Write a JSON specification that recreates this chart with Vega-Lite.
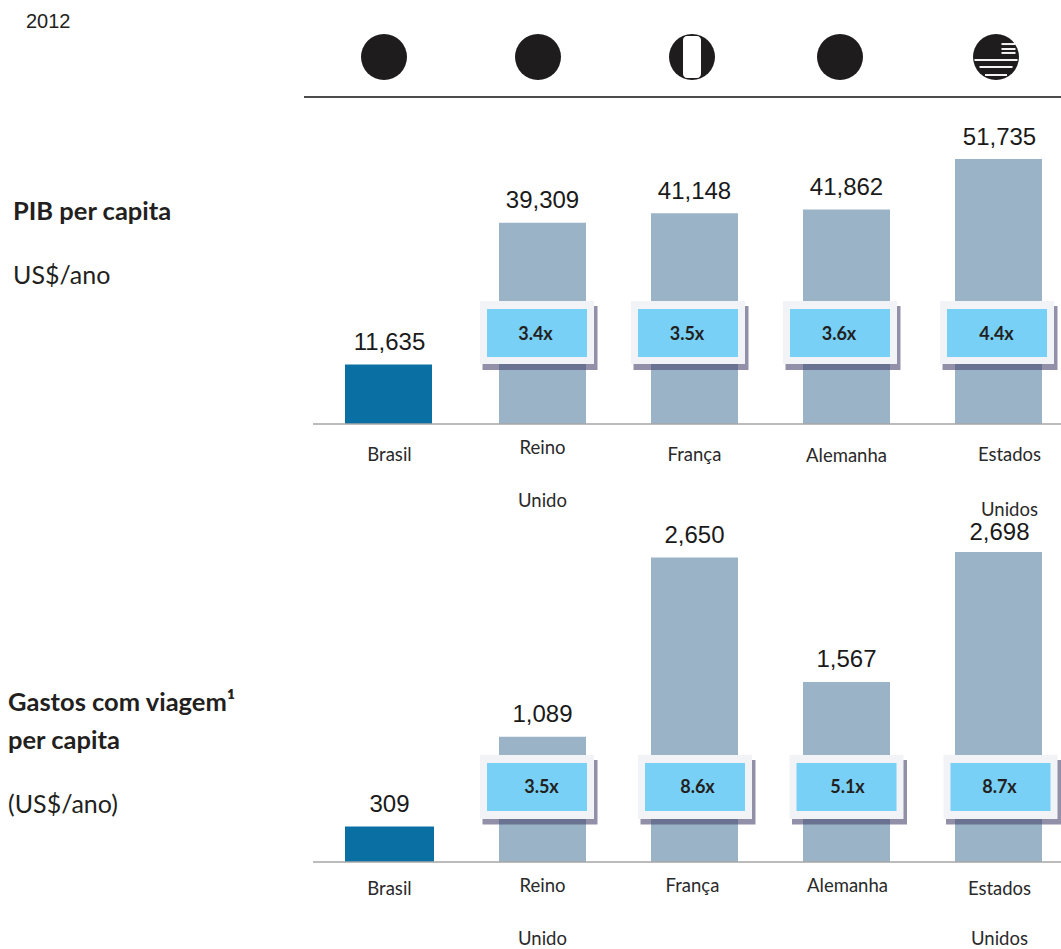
{
"$schema":"https://vega.github.io/schema/vega-lite/v6.json",
"width":1061,"height":949,"padding":0,"autosize":{"type":"fit","contains":"padding"},
"background":"white","view":{"stroke":null},
"config":{"text":{"font":"Liberation Sans","color":"#1a1a1a"}},
"datasets":{
"pib":[{"pais":"Brasil","valor":11635},{"pais":"Reino Unido","valor":39309,"multiplo":"3.4x"},{"pais":"França","valor":41148,"multiplo":"3.5x"},{"pais":"Alemanha","valor":41862,"multiplo":"3.6x"},{"pais":"Estados Unidos","valor":51735,"multiplo":"4.4x"}],
"viagem":[{"pais":"Brasil","valor":309},{"pais":"Reino Unido","valor":1089,"multiplo":"3.5x"},{"pais":"França","valor":2650,"multiplo":"8.6x"},{"pais":"Alemanha","valor":1567,"multiplo":"5.1x"},{"pais":"Estados Unidos","valor":2698,"multiplo":"8.7x"}],
"nomes":[{"pais":"Brasil","linha":"Brasil"},{"pais":"Reino Unido","linha":"Reino"},{"pais":"Reino Unido","linha":"Unido"},{"pais":"França","linha":"França"},{"pais":"Alemanha","linha":"Alemanha"},{"pais":"Estados Unidos","linha":"Estados"},{"pais":"Estados Unidos","linha":"Unidos"}],
"paises":[{"pais":"Brasil"},{"pais":"Reino Unido"},{"pais":"França"},{"pais":"Alemanha"},{"pais":"Estados Unidos"}]
},
"encoding":{"x":{"field":"pais","type":"nominal","sort":null,"axis":null,"scale":{"type":"point","padding":0,"domain":["Brasil","Reino Unido","França","Alemanha","Estados Unidos"],"range":[390.5,998.5]}}},
"resolve":{"scale":{"y":"independent"}},
"layer":[
{"data":{"name":"paises"},"layer":[
 {"mark":{"type":"point","shape":"circle","filled":true,"color":"#1f1c1d","opacity":1,"size":2116,"xOffset":{"expr":"datum.pais=='Brasil'?-6.5:datum.pais=='Reino Unido'?-4.5:datum.pais=='França'?-2.5:datum.pais=='Alemanha'?-6.5:-2.5"}},
  "encoding":{"y":{"datum":0.412,"axis":null,"scale":{"domain":[0,1],"range":[97,0],"nice":false}}}},
 {"data":{"values":[{"pais":"França"}]},"mark":{"type":"bar","size":18,"color":"white","xOffset":-2.5,"cornerRadius":4},"encoding":{"y":{"datum":0.629},"y2":{"datum":0.196}}},
 {"data":{"values":[{"pais":"Estados Unidos","faixa":0.381,"tam":43},{"pais":"Estados Unidos","faixa":0.309,"tam":33},{"pais":"Estados Unidos","faixa":0.227,"tam":22},{"pais":"Estados Unidos","faixa":0.546,"tam":14},{"pais":"Estados Unidos","faixa":0.495,"tam":14},{"pais":"Estados Unidos","faixa":0.454,"tam":14}]},
  "mark":{"type":"tick","orient":"horizontal","color":"white","thickness":2,"opacity":0.95,"xOffset":{"expr":"datum.tam==14?10:-2.5"},"size":{"expr":"datum.tam"}},
  "encoding":{"y":{"field":"faixa","type":"quantitative"}}},
 {"data":{"values":[{"pais":"Brasil"}]},"mark":{"type":"rule","color":"#111","strokeWidth":1.5},"encoding":{"x":{"value":304},"x2":{"value":1061},"y":{"datum":0}}}
]},
{"data":{"name":"pib"},"layer":[
 {"mark":{"type":"bar","size":87,"xOffset":{"expr":"datum.pais=='Brasil'?-2:0"}},"encoding":{"y":{"field":"valor","type":"quantitative","axis":null,"scale":{"domain":[0,51735],"range":[424,159],"nice":false}},"color":{"condition":{"test":"datum.pais=='Brasil'","value":"#0a70a4"},"value":"#9ab3c6"}}},
 {"data":{"values":[{"pais":"Brasil"}]},"mark":{"type":"rule","color":"#a6a6a6","strokeWidth":1.5},"encoding":{"x":{"value":313},"x2":{"value":1061},"y":{"datum":0}}},
 {"mark":{"type":"text","fontSize":24,"baseline":"middle","dy":-21.5,"dx":{"expr":"datum.pais=='Estados Unidos'?1:datum.pais=='Brasil'?-1:0"}},"encoding":{"y":{"field":"valor","type":"quantitative"},"text":{"field":"valor","type":"quantitative","format":","}}},
 {"transform":[{"filter":"datum.multiplo"}],"mark":{"type":"bar","size":115,"color":"#49466e","opacity":0.6,"xOffset":{"expr":"(datum.pais=='Reino Unido'?-5.5:datum.pais=='Estados Unidos'?-1.5:-6.5)+3"}},"encoding":{"y":{"datum":23037},"y2":{"datum":10542}}},
 {"transform":[{"filter":"datum.multiplo"}],"mark":{"type":"bar","size":114,"color":"#f1f3f6","xOffset":{"expr":"datum.pais=='Reino Unido'?-5.5:datum.pais=='Estados Unidos'?-1.5:-6.5"}},"encoding":{"y":{"datum":24012},"y2":{"datum":11714}}},
 {"transform":[{"filter":"datum.multiplo"}],"mark":{"type":"bar","size":100,"color":"#78d0f6","xOffset":{"expr":"datum.pais=='Reino Unido'?-5.5:datum.pais=='Estados Unidos'?-1.5:-6.5"}},"encoding":{"y":{"datum":22451},"y2":{"datum":13080}}},
 {"transform":[{"filter":"datum.multiplo"}],"mark":{"type":"text","font":"Lato","fontWeight":"bold","fontSize":18,"baseline":"middle","color":"#231f20","xOffset":{"expr":"datum.pais=='Reino Unido'?-7:datum.pais=='Estados Unidos'?-2:-7.5"}},"encoding":{"y":{"datum":17375},"text":{"field":"multiplo"}}},
 {"data":{"name":"nomes"},"mark":{"type":"text","font":"Lato","fontSize":18.5,"baseline":"middle","color":"#2a2a2a","dy":{"expr":"datum.linha=='Unido'?77:datum.linha=='Unidos'?86:datum.linha=='Reino'?24:datum.linha=='Alemanha'?32:31"},"dx":{"expr":"datum.pais=='Estados Unidos'?11:datum.pais=='Brasil'?-1:0"}},"encoding":{"y":{"datum":0},"text":{"field":"linha"}}},
 {"data":{"values":[{"t":"PIB per capita"}]},"mark":{"type":"text","font":"Lato","fontWeight":"bold","fontSize":25.5,"align":"left","baseline":"middle","color":"#231f20"},"encoding":{"x":{"value":13},"y":{"datum":41388},"text":{"field":"t"}}},
 {"data":{"values":[{"t":"US$/ano"}]},"mark":{"type":"text","font":"Lato","fontSize":25,"align":"left","baseline":"middle","color":"#231f20"},"encoding":{"x":{"value":13},"y":{"datum":28893},"text":{"field":"t"}}},
 {"data":{"values":[{"t":"2012"}]},"mark":{"type":"text","font":"Liberation Sans","fontSize":20,"align":"left","baseline":"middle","color":"#231f20"},"encoding":{"x":{"value":26},"y":{"datum":78480},"text":{"field":"t"}}}
]},
{"data":{"name":"viagem"},"layer":[
 {"mark":{"type":"bar","size":{"expr":"datum.pais=='Brasil'?89:87"},"xOffset":{"expr":"datum.pais=='Brasil'?-1:0"}},"encoding":{"y":{"field":"valor","type":"quantitative","axis":null,"scale":{"domain":[0,2698],"range":[862,552],"nice":false}},"color":{"condition":{"test":"datum.pais=='Brasil'","value":"#0a70a4"},"value":"#9ab3c6"}}},
 {"data":{"values":[{"pais":"Brasil"}]},"mark":{"type":"rule","color":"#a6a6a6","strokeWidth":1.5},"encoding":{"x":{"value":313},"x2":{"value":1061},"y":{"datum":0}}},
 {"mark":{"type":"text","fontSize":24,"baseline":"middle","dy":{"expr":"datum.pais=='Estados Unidos'?-19.5:datum.pais=='Brasil'?-21:-22"},"dx":{"expr":"datum.pais=='Estados Unidos'?1:datum.pais=='Brasil'?-1:0"}},"encoding":{"y":{"field":"valor","type":"quantitative"},"text":{"field":"valor","type":"quantitative","format":","}}},
 {"transform":[{"filter":"datum.multiplo"}],"mark":{"type":"bar","size":115,"color":"#49466e","opacity":0.6,"xOffset":{"expr":"(datum.pais=='Reino Unido'?-5.5:datum.pais=='França'?0.5:datum.pais=='Alemanha'?0:2)+3"}},"encoding":{"y":{"datum":888},"y2":{"datum":326}}},
 {"transform":[{"filter":"datum.multiplo"}],"mark":{"type":"bar","size":114,"color":"#f1f3f6","xOffset":{"expr":"datum.pais=='Reino Unido'?-5.5:datum.pais=='França'?0.5:datum.pais=='Alemanha'?0:2"}},"encoding":{"y":{"datum":931},"y2":{"datum":374}}},
 {"transform":[{"filter":"datum.multiplo"}],"mark":{"type":"bar","size":100,"color":"#78d0f6","xOffset":{"expr":"datum.pais=='Reino Unido'?-5.5:datum.pais=='França'?0.5:datum.pais=='Alemanha'?0:2"}},"encoding":{"y":{"datum":862},"y2":{"datum":444}}},
 {"transform":[{"filter":"datum.multiplo"}],"mark":{"type":"text","font":"Lato","fontWeight":"bold","fontSize":18,"baseline":"middle","color":"#231f20","xOffset":{"expr":"datum.pais=='Reino Unido'?-1:datum.pais=='França'?3:datum.pais=='Alemanha'?1:1"}},"encoding":{"y":{"datum":644},"text":{"field":"multiplo"}}},
 {"data":{"name":"nomes"},"mark":{"type":"text","font":"Lato","fontSize":18.5,"baseline":"middle","color":"#2a2a2a","dy":{"expr":"datum.linha=='Unido'||datum.linha=='Unidos'?77:datum.linha=='Brasil'||datum.linha=='Estados'?27:24"},"dx":{"expr":"datum.pais=='França'?-2:datum.pais=='Brasil'?-1:datum.pais=='Alemanha'?1:datum.pais=='Estados Unidos'?1:0"}},"encoding":{"y":{"datum":0},"text":{"field":"linha"}}},
 {"data":{"values":[{"t":"Gastos com viagem¹"}]},"mark":{"type":"text","font":"Lato","fontWeight":"bold","fontSize":25.5,"align":"left","baseline":"middle","color":"#231f20"},"encoding":{"x":{"value":8},"y":{"datum":1384},"text":{"field":"t"}}},
 {"data":{"values":[{"t":"per capita"}]},"mark":{"type":"text","font":"Lato","fontWeight":"bold","fontSize":25.5,"align":"left","baseline":"middle","color":"#231f20"},"encoding":{"x":{"value":8},"y":{"datum":1053},"text":{"field":"t"}}},
 {"data":{"values":[{"t":"(US$/ano)"}]},"mark":{"type":"text","font":"Lato","fontSize":25,"align":"left","baseline":"middle","color":"#231f20"},"encoding":{"x":{"value":8},"y":{"datum":496},"text":{"field":"t"}}}
]}
]
}
